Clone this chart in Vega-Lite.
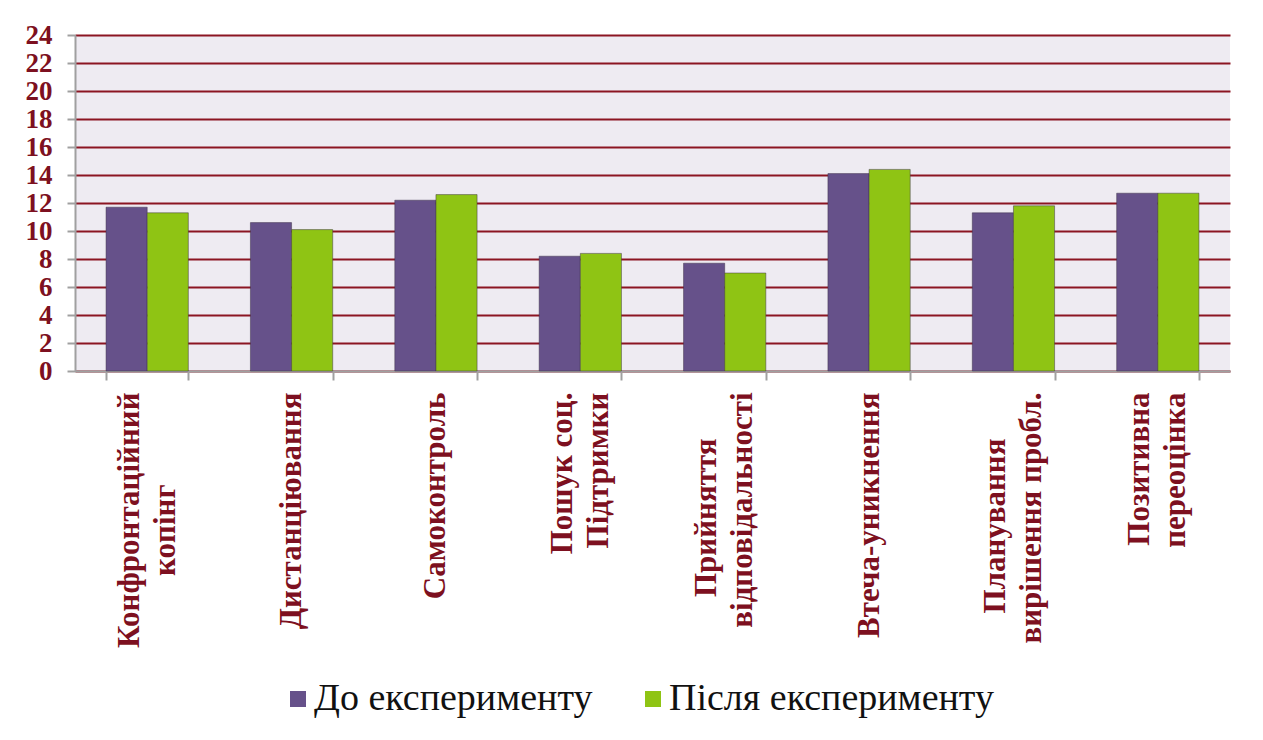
{
  "$schema": "https://vega.github.io/schema/vega-lite/v6.json",
  "width": 1155,
  "height": 336,
  "autosize": {"type": "none"},
  "padding": {"left": 75, "top": 35, "right": 33, "bottom": 369},
  "background": "white",
  "data": {
    "values": [
      {"category": "Конфронтаційний копінг", "series": "До експерименту", "value": 11.7},
      {"category": "Конфронтаційний копінг", "series": "Після експерименту", "value": 11.3},
      {"category": "Дистанціювання", "series": "До експерименту", "value": 10.6},
      {"category": "Дистанціювання", "series": "Після експерименту", "value": 10.1},
      {"category": "Самоконтроль", "series": "До експерименту", "value": 12.2},
      {"category": "Самоконтроль", "series": "Після експерименту", "value": 12.6},
      {"category": "Пошук соц. Підтримки", "series": "До експерименту", "value": 8.2},
      {"category": "Пошук соц. Підтримки", "series": "Після експерименту", "value": 8.4},
      {"category": "Прийняття відповідальності", "series": "До експерименту", "value": 7.7},
      {"category": "Прийняття відповідальності", "series": "Після експерименту", "value": 7.0},
      {"category": "Втеча-уникнення", "series": "До експерименту", "value": 14.1},
      {"category": "Втеча-уникнення", "series": "Після експерименту", "value": 14.4},
      {"category": "Планування вирішення пробл.", "series": "До експерименту", "value": 11.3},
      {"category": "Планування вирішення пробл.", "series": "Після експерименту", "value": 11.8},
      {"category": "Позитивна переоцінка", "series": "До експерименту", "value": 12.7},
      {"category": "Позитивна переоцінка", "series": "Після експерименту", "value": 12.7}
    ]
  },
  "mark": {"type": "bar", "stroke": "#3a2f45", "strokeWidth": 0.8, "strokeOpacity": 0.6},
  "encoding": {
    "x": {
      "field": "category",
      "type": "nominal",
      "sort": null,
      "title": null,
      "scale": {"paddingInner": 0.43, "paddingOuter": 0.215},
      "axis": {
        "labelAngle": -90,
        "labelFont": "Liberation Serif",
        "labelFontSize": 31,
        "labelFontWeight": "bold",
        "labelColor": "#7d1020",
        "labelLineHeight": 18,
        "labelOffset": -18,
        "labelPadding": 12,
        "labelLimit": 400,
        "labelOverlap": false,
        "tickBand": "extent",
        "tickSize": 9,
        "tickColor": "#a0a0a0",
        "tickWidth": 2,
        "domainColor": "#a0a0a0",
        "domainWidth": 2,
        "grid": false,
        "labelExpr": "datum.label == 'Конфронтаційний копінг' ? ['Конфронтаційний', '\u2800', 'копінг\u2800\u2800\u2800\u2800'] : datum.label == 'Пошук соц. Підтримки' ? ['Пошук соц.', '\u2800', 'Підтримки'] : datum.label == 'Прийняття відповідальності' ? ['Прийняття\u2800\u2800', '\u2800', 'відповідальності'] : datum.label == 'Планування вирішення пробл.' ? ['Планування\u2800\u2800', '\u2800', 'вирішення пробл.'] : datum.label == 'Позитивна переоцінка' ? ['Позитивна', '\u2800', 'переоцінка'] : ['\u2800', datum.label]"
      }
    },
    "xOffset": {"field": "series", "type": "nominal", "scale": {"paddingInner": 0, "paddingOuter": 0}},
    "y": {
      "field": "value",
      "type": "quantitative",
      "title": null,
      "scale": {"domain": [0, 24], "nice": false},
      "axis": {
        "values": [0, 2, 4, 6, 8, 10, 12, 14, 16, 18, 20, 22, 24],
        "labelFont": "Liberation Serif",
        "labelFontSize": 27,
        "labelFontWeight": "bold",
        "labelColor": "#7d1020",
        "labelPadding": 15,
        "tickSize": 8,
        "tickColor": "#a0a0a0",
        "tickWidth": 2,
        "domainColor": "#a0a0a0",
        "domainWidth": 2,
        "grid": true,
        "gridColor": "#8b1522",
        "gridWidth": 2,
        "gridOpacity": 1
      }
    },
    "color": {
      "field": "series",
      "type": "nominal",
      "title": null,
      "scale": {"domain": ["До експерименту", "Після експерименту"], "range": ["#66518a", "#8fc414"]},
      "legend": {
        "orient": "none",
        "direction": "horizontal",
        "legendX": 204,
        "legendY": 645,
        "symbolType": "square",
        "symbolSize": 256,
        "symbolStrokeWidth": 0,
        "labelFont": "Liberation Serif",
        "labelFontSize": 38,
        "labelColor": "#111111",
        "labelOffset": -3,
        "labelLimit": 500,
        "columnPadding": 41
      }
    }
  },
  "config": {
    "view": {"fill": "#eeebf2", "stroke": null}
  }
}
